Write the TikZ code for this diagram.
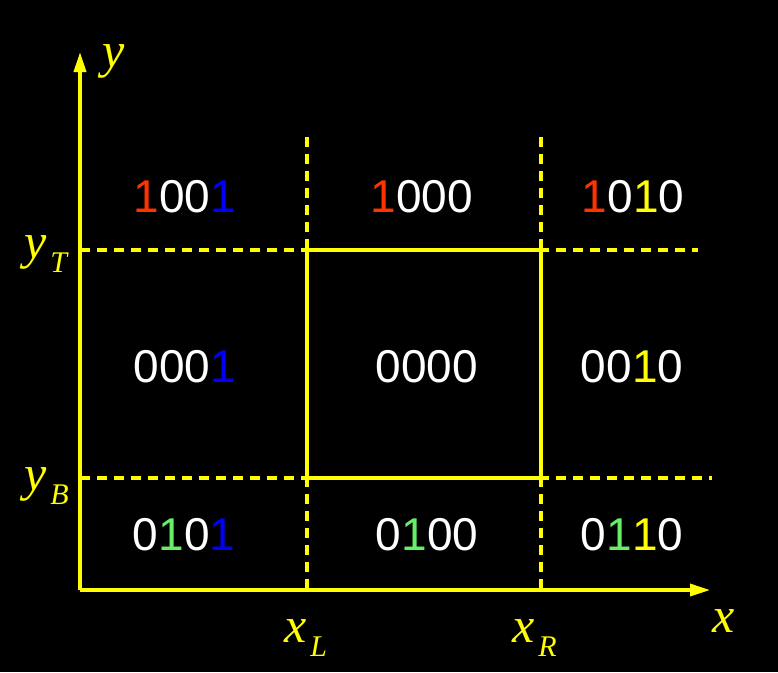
\documentclass[tikz,border=0pt]{standalone}
\usepackage{fontspec}
\setmainfont{Liberation Serif}
\setsansfont{Liberation Sans}
\usetikzlibrary{arrows.meta}
\definecolor{cyel}{RGB}{255,255,0}
\definecolor{cred}{RGB}{255,51,0}
\definecolor{cblue}{RGB}{0,0,255}
\definecolor{cgreen}{RGB}{102,238,102}
\tikzset{
  axis/.style={draw=cyel,line width=3.3pt,-{Triangle[length=20pt,width=12pt]}},
  guide/.style={draw=cyel,line width=3.3pt,dash pattern=on 10pt off 7pt},
  frame/.style={draw=cyel,line width=3.3pt},
  code/.style={text=white,font=\sffamily\fontsize{46}{46}\selectfont,inner sep=0pt,anchor=base},
  lab/.style={text=cyel,font=\itshape\fontsize{50}{50}\selectfont,inner sep=0pt,anchor=base west},
}
\newcommand{\sub}[1]{\kern4pt\raisebox{-14pt}{\fontsize{30}{30}\selectfont #1}}
\begin{document}
\begin{tikzpicture}[x=1pt,y=-1pt]
\fill[black] (0,0) rectangle (778,672);
\useasboundingbox (0,0) rectangle (778,672);
% coordinates
\coordinate (O) at (80,590);
\coordinate (XE) at (710,590);
\coordinate (YE) at (80,52);
\coordinate (TL) at (80,250);
\coordinate (TR) at (698,250);
\coordinate (BL) at (80,478);
\coordinate (BR) at (712,478);
\coordinate (LT) at (307,137);
\coordinate (LB) at (307,590);
\coordinate (RT) at (541,137);
\coordinate (RB) at (541,590);
% guides
\draw[guide] (TL) -- (TR);
\draw[guide] (BL) -- (BR);
\draw[guide] (LT) -- (LB);
\draw[guide] (RT) -- (RB);
% clipping window
\draw[frame] (307,250) rectangle (541,478);
% axes
\draw[axis] (O) -- (XE);
\draw[axis] (O) -- (YE);
% region codes
\node[code] (c1001) at (185,212) {\textcolor{cred}{1}00\textcolor{cblue}{1}};
\node[code] (c1000) at (422,212) {\textcolor{cred}{1}000};
\node[code] (c1010) at (633,212) {\textcolor{cred}{1}0\textcolor{cyel}{1}0};
\node[code] (c0001) at (185,382) {000\textcolor{cblue}{1}};
\node[code] (c0000) at (427,382) {0000};
\node[code] (c0010) at (632,382) {00\textcolor{cyel}{1}0};
\node[code] (c0101) at (184,550) {0\textcolor{cgreen}{1}0\textcolor{cblue}{1}};
\node[code] (c0100) at (427,550) {0\textcolor{cgreen}{1}00};
\node[code] (c0110) at (632,550) {0\textcolor{cgreen}{1}\textcolor{cyel}{1}0};
% labels
\node[lab] (ly) at (102,67) {y};
\node[lab] (lyT) at (24,258) {y\sub{T}};
\node[lab] (lyB) at (24,490) {y\sub{B}};
\node[lab] (lxL) at (284,642) {x\sub{L}};
\node[lab] (lxR) at (512,642) {x\sub{R}};
\node[lab] (lx) at (712,632) {x};
\end{tikzpicture}
\end{document}
